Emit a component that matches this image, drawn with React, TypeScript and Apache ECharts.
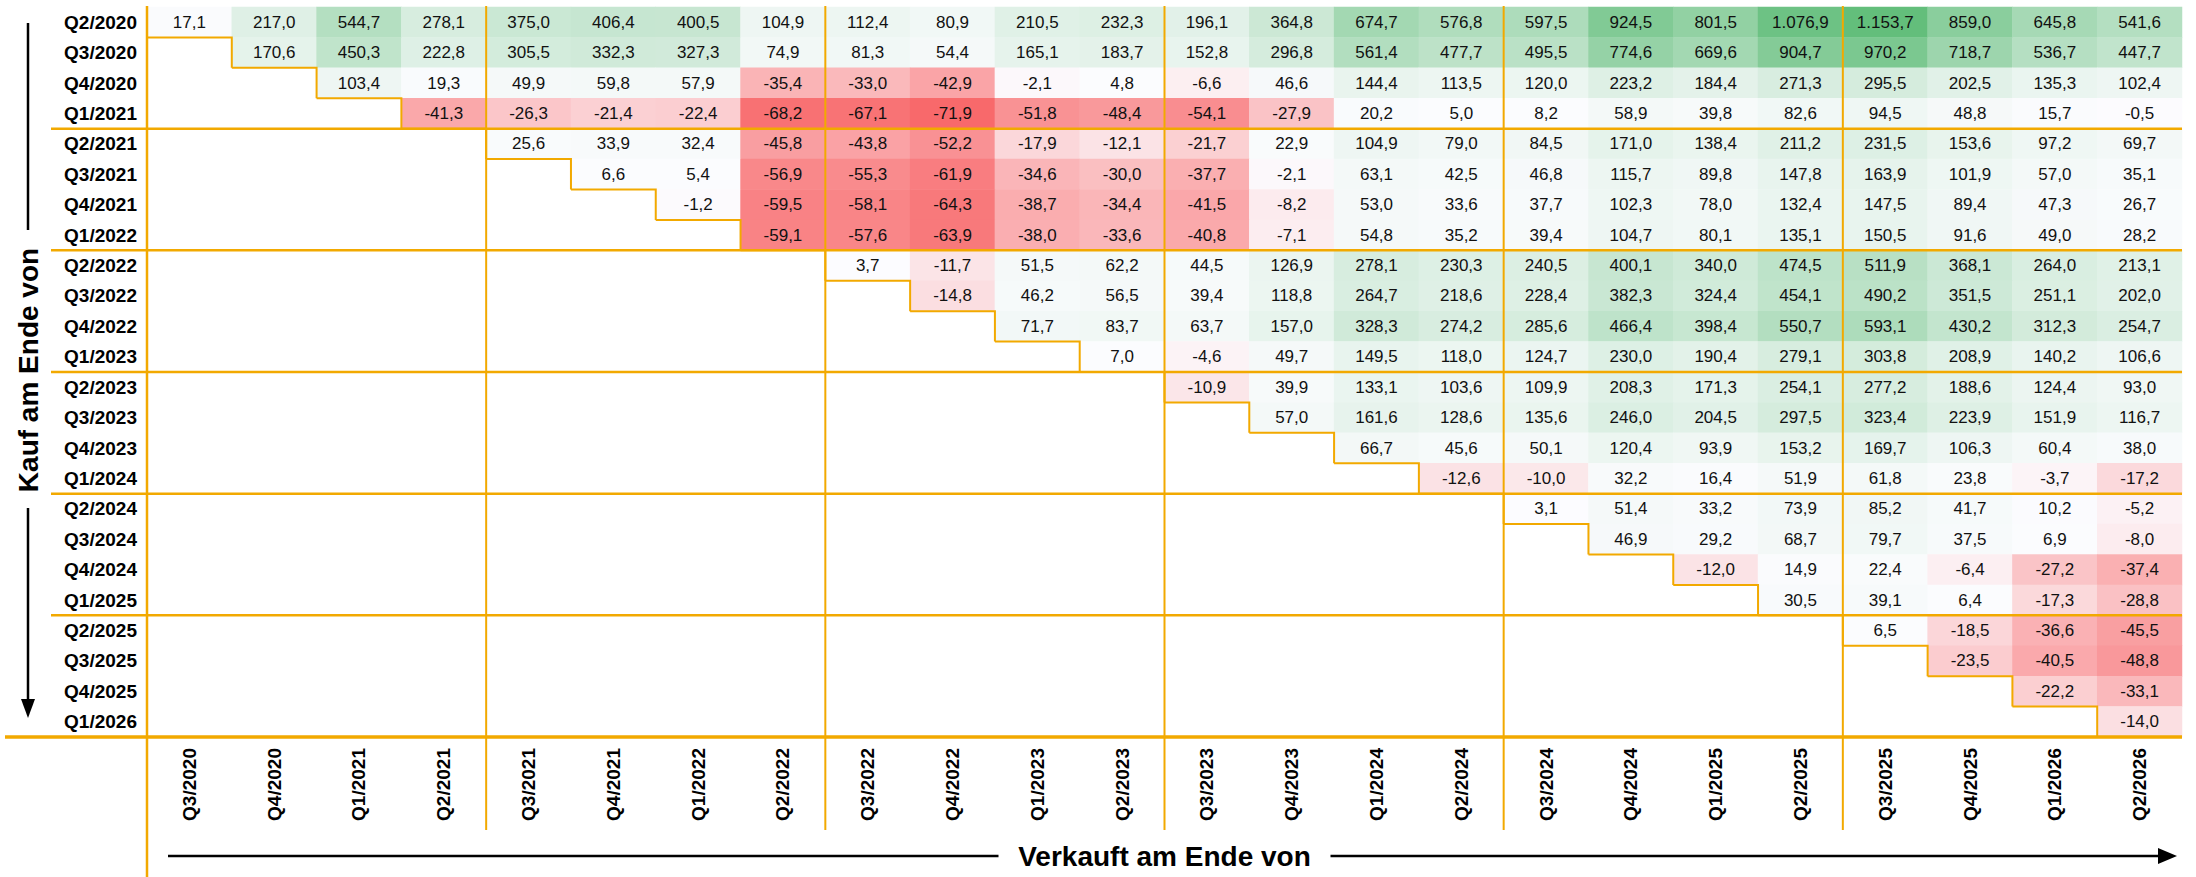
import React, { useEffect, useRef } from 'react';
import * as echarts from 'echarts';

const rowLabels = [
  'Q2/2020', 'Q3/2020', 'Q4/2020', 'Q1/2021', 'Q2/2021', 'Q3/2021', 'Q4/2021', 'Q1/2022',
  'Q2/2022', 'Q3/2022', 'Q4/2022', 'Q1/2023', 'Q2/2023', 'Q3/2023', 'Q4/2023', 'Q1/2024',
  'Q2/2024', 'Q3/2024', 'Q4/2024', 'Q1/2025', 'Q2/2025', 'Q3/2025', 'Q4/2025', 'Q1/2026',
];
const colLabels = [
  'Q3/2020', 'Q4/2020', 'Q1/2021', 'Q2/2021', 'Q3/2021', 'Q4/2021', 'Q1/2022', 'Q2/2022',
  'Q3/2022', 'Q4/2022', 'Q1/2023', 'Q2/2023', 'Q3/2023', 'Q4/2023', 'Q1/2024', 'Q2/2024',
  'Q3/2024', 'Q4/2024', 'Q1/2025', 'Q2/2025', 'Q3/2025', 'Q4/2025', 'Q1/2026', 'Q2/2026',
];

// each row starts at the column with the same index (upper triangle)
const buyQ2_2020 = [17.1, 217.0, 544.7, 278.1, 375.0, 406.4, 400.5, 104.9, 112.4, 80.9, 210.5, 232.3, 196.1, 364.8, 674.7, 576.8, 597.5, 924.5, 801.5, 1076.9, 1153.7, 859.0, 645.8, 541.6];
const buyQ3_2020 = [170.6, 450.3, 222.8, 305.5, 332.3, 327.3, 74.9, 81.3, 54.4, 165.1, 183.7, 152.8, 296.8, 561.4, 477.7, 495.5, 774.6, 669.6, 904.7, 970.2, 718.7, 536.7, 447.7];
const buyQ4_2020 = [103.4, 19.3, 49.9, 59.8, 57.9, -35.4, -33.0, -42.9, -2.1, 4.8, -6.6, 46.6, 144.4, 113.5, 120.0, 223.2, 184.4, 271.3, 295.5, 202.5, 135.3, 102.4];
const buyQ1_2021 = [-41.3, -26.3, -21.4, -22.4, -68.2, -67.1, -71.9, -51.8, -48.4, -54.1, -27.9, 20.2, 5.0, 8.2, 58.9, 39.8, 82.6, 94.5, 48.8, 15.7, -0.5];
const buyQ2_2021 = [25.6, 33.9, 32.4, -45.8, -43.8, -52.2, -17.9, -12.1, -21.7, 22.9, 104.9, 79.0, 84.5, 171.0, 138.4, 211.2, 231.5, 153.6, 97.2, 69.7];
const buyQ3_2021 = [6.6, 5.4, -56.9, -55.3, -61.9, -34.6, -30.0, -37.7, -2.1, 63.1, 42.5, 46.8, 115.7, 89.8, 147.8, 163.9, 101.9, 57.0, 35.1];
const buyQ4_2021 = [-1.2, -59.5, -58.1, -64.3, -38.7, -34.4, -41.5, -8.2, 53.0, 33.6, 37.7, 102.3, 78.0, 132.4, 147.5, 89.4, 47.3, 26.7];
const buyQ1_2022 = [-59.1, -57.6, -63.9, -38.0, -33.6, -40.8, -7.1, 54.8, 35.2, 39.4, 104.7, 80.1, 135.1, 150.5, 91.6, 49.0, 28.2];
const buyQ2_2022 = [3.7, -11.7, 51.5, 62.2, 44.5, 126.9, 278.1, 230.3, 240.5, 400.1, 340.0, 474.5, 511.9, 368.1, 264.0, 213.1];
const buyQ3_2022 = [-14.8, 46.2, 56.5, 39.4, 118.8, 264.7, 218.6, 228.4, 382.3, 324.4, 454.1, 490.2, 351.5, 251.1, 202.0];
const buyQ4_2022 = [71.7, 83.7, 63.7, 157.0, 328.3, 274.2, 285.6, 466.4, 398.4, 550.7, 593.1, 430.2, 312.3, 254.7];
const buyQ1_2023 = [7.0, -4.6, 49.7, 149.5, 118.0, 124.7, 230.0, 190.4, 279.1, 303.8, 208.9, 140.2, 106.6];
const buyQ2_2023 = [-10.9, 39.9, 133.1, 103.6, 109.9, 208.3, 171.3, 254.1, 277.2, 188.6, 124.4, 93.0];
const buyQ3_2023 = [57.0, 161.6, 128.6, 135.6, 246.0, 204.5, 297.5, 323.4, 223.9, 151.9, 116.7];
const buyQ4_2023 = [66.7, 45.6, 50.1, 120.4, 93.9, 153.2, 169.7, 106.3, 60.4, 38.0];
const buyQ1_2024 = [-12.6, -10.0, 32.2, 16.4, 51.9, 61.8, 23.8, -3.7, -17.2];
const buyQ2_2024 = [3.1, 51.4, 33.2, 73.9, 85.2, 41.7, 10.2, -5.2];
const buyQ3_2024 = [46.9, 29.2, 68.7, 79.7, 37.5, 6.9, -8.0];
const buyQ4_2024 = [-12.0, 14.9, 22.4, -6.4, -27.2, -37.4];
const buyQ1_2025 = [30.5, 39.1, 6.4, -17.3, -28.8];
const buyQ2_2025 = [6.5, -18.5, -36.6, -45.5];
const buyQ3_2025 = [-23.5, -40.5, -48.8];
const buyQ4_2025 = [-22.2, -33.1];
const buyQ1_2026 = [-14.0];

const rows = [
  buyQ2_2020, buyQ3_2020, buyQ4_2020, buyQ1_2021, buyQ2_2021, buyQ3_2021, buyQ4_2021, buyQ1_2022,
  buyQ2_2022, buyQ3_2022, buyQ4_2022, buyQ1_2023, buyQ2_2023, buyQ3_2023, buyQ4_2023, buyQ1_2024,
  buyQ2_2024, buyQ3_2024, buyQ4_2024, buyQ1_2025, buyQ2_2025, buyQ3_2025, buyQ4_2025, buyQ1_2026,
];

const FONT = '"Liberation Sans", Arial, Helvetica, sans-serif';
const ORANGE = '#F2A900';
const SCALE_COLORS = ['#F8696B', '#FCFCFF', '#63BE7B'];

function fmt(v: number): string {
  const s = Math.abs(v).toFixed(1);
  const [ip, dp] = s.split('.');
  const withDots = ip.replace(/\B(?=(\d{3})+(?!\d))/g, '.');
  return (v < 0 ? '-' : '') + withDots + ',' + dp;
}

export default function App() {
  const ref = useRef<HTMLDivElement>(null);

  useEffect(() => {
    document.body.style.margin = '0';
    if (!ref.current) return;
    const chart = echarts.init(ref.current, undefined, { renderer: 'svg' });

    const all: number[] = [];
    rows.forEach((r) => r.forEach((v) => all.push(v)));
    const vMin = Math.min(...all);
    const vMax = Math.max(...all);

    // dimension 3: signed position on the 3-colour scale (-1 = min, 0 = zero, 1 = max)
    const cells: number[][] = [];
    rows.forEach((r, ri) => {
      r.forEach((v, k) => {
        const ci = ri + k;
        const t = v < 0 ? -v / vMin : v / vMax;
        cells.push([ci, ri, v, t]);
      });
    });
    const diag = rowLabels.map((_, i) => [i, i]);

    const option: any = {
      animation: false,
      grid: { left: 147, top: 7, width: 2035, height: 730 },
      visualMap: {
        show: false,
        type: 'continuous',
        dimension: 3,
        seriesIndex: 0,
        min: -1,
        max: 1,
        inRange: { color: SCALE_COLORS },
      },
      xAxis: {
        type: 'category',
        data: colLabels,
        axisLine: { show: false },
        axisTick: { show: false },
        splitLine: { show: false },
        axisLabel: {
          rotate: 90, margin: 11, interval: 0, fontSize: 19, fontWeight: 'bold',
          color: '#000', fontFamily: FONT,
        },
      },
      yAxis: {
        type: 'category',
        data: rowLabels,
        inverse: true,
        axisLine: { show: false },
        axisTick: { show: false },
        splitLine: { show: false },
        axisLabel: {
          margin: 10, interval: 0, fontSize: 19, fontWeight: 'bold',
          color: '#000', fontFamily: FONT,
        },
      },
      series: [
        {
          type: 'heatmap',
          data: cells,
          itemStyle: { borderWidth: 0 },
          emphasis: { disabled: true },
          label: {
            show: true,
            formatter: (p: any) => fmt(p.value[2]),
            fontSize: 17,
            color: '#111',
            fontFamily: FONT,
          },
        },
        {
          type: 'custom',
          data: diag,
          z: 5,
          silent: true,
          encode: { x: 0, y: 1 },
          renderItem: (params: any, api: any) => {
            const ci = api.value(0);
            const ri = api.value(1);
            const c = api.coord([ci, ri]);
            const sz = api.size([1, 1]);
            const w = Math.abs(sz[0]);
            const h = Math.abs(sz[1]);
            const pts: number[][] = [
              [c[0] - w / 2, c[1] + h / 2],
              [c[0] + w / 2, c[1] + h / 2],
            ];
            if (ri < rowLabels.length - 1) pts.push([c[0] + w / 2, c[1] + h * 1.5]);
            return {
              type: 'polyline',
              shape: { points: pts },
              style: { stroke: ORANGE, lineWidth: 2, fill: 'none' },
            };
          },
        },
      ],
    };
    chart.setOption(option);

    const p0 = chart.convertToPixel({ gridIndex: 0 }, [0, 0]) as number[];
    const p1 = chart.convertToPixel({ gridIndex: 0 }, [1, 1]) as number[];
    const w = p1[0] - p0[0];
    const h = p1[1] - p0[1];
    const left = p0[0] - w / 2;
    const top = p0[1] - h / 2;
    const right = left + w * colLabels.length;
    const bottom = top + h * rowLabels.length;

    const lineEl = (x1: number, y1: number, x2: number, y2: number, lw: number, color = ORANGE) => ({
      type: 'line',
      z: 100,
      silent: true,
      shape: { x1, y1, x2, y2 },
      style: { stroke: color, lineWidth: lw },
    });

    const g: any[] = [];
    g.push(lineEl(left, top - 1, left, 877, 2.5));
    for (let k = 4; k < colLabels.length; k += 4) {
      g.push(lineEl(left + k * w, top - 1, left + k * w, 830, 2));
    }
    for (let k = 4; k < rowLabels.length; k += 4) {
      g.push(lineEl(51, top + k * h, right, top + k * h, 2.5));
    }
    g.push(lineEl(5, bottom, right, bottom, 3.5));

    // x-axis title with arrow
    const cx = left + (right - left) / 2;
    const ty = 856;
    g.push({
      type: 'text', z: 100, x: cx, y: ty,
      style: {
        text: 'Verkauft am Ende von', fill: '#000', font: `bold 28px ${FONT}`,
        textAlign: 'center', textVerticalAlign: 'middle',
      },
    });
    g.push(lineEl(168, ty, cx - 166, ty, 2.5, '#000'));
    g.push(lineEl(cx + 166, ty, 2160, ty, 2.5, '#000'));
    g.push({
      type: 'polygon', z: 100,
      shape: { points: [[2177, ty], [2158, ty - 8], [2158, ty + 8]] },
      style: { fill: '#000' },
    });

    // y-axis title with arrow
    const yx = 28;
    const cy = 370;
    g.push({
      type: 'text', z: 100, x: yx, y: cy, rotation: Math.PI / 2,
      style: {
        text: 'Kauf am Ende von', fill: '#000', font: `bold 28px ${FONT}`,
        textAlign: 'center', textVerticalAlign: 'middle',
      },
    });
    g.push(lineEl(yx, 23, yx, cy - 140, 2.5, '#000'));
    g.push(lineEl(yx, cy + 138, yx, 702, 2.5, '#000'));
    g.push({
      type: 'polygon', z: 100,
      shape: { points: [[yx, 718], [yx - 7, 699], [yx + 7, 699]] },
      style: { fill: '#000' },
    });

    chart.setOption({ graphic: g });

    return () => chart.dispose();
  }, []);

  return <div ref={ref} style={{ width: 2196, height: 877 }} />;
}
